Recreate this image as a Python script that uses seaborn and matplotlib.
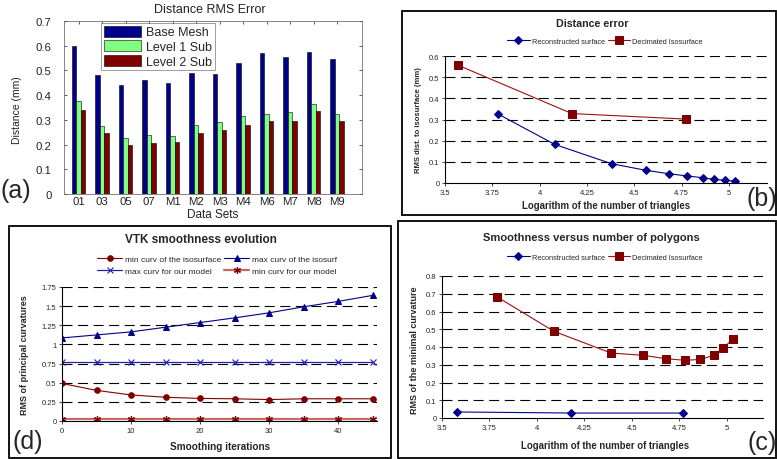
"""
Fyra paneler: avståndsfel och krökningsmått
"""

import matplotlib
matplotlib.use("Agg")
import matplotlib.pyplot as plt
from matplotlib.patches import Rectangle
import pandas as pd
import seaborn as sns

sns.set_style("white")
plt.rcParams["font.family"] = ["Liberation Sans", "DejaVu Sans"]

# (a) Distance RMS Error
data_sets = ["01", "03", "05", "07", "M1", "M2", "M3", "M4", "M6", "M7", "M8", "M9"]
base_mesh = [0.60, 0.48, 0.44, 0.46, 0.45, 0.49, 0.485, 0.53, 0.57, 0.555, 0.575, 0.545]
level1_sub = [0.375, 0.275, 0.225, 0.24, 0.235, 0.28, 0.29, 0.315, 0.325, 0.33, 0.365, 0.325]
level2_sub = [0.34, 0.245, 0.20, 0.205, 0.21, 0.245, 0.26, 0.28, 0.295, 0.295, 0.335, 0.295]

# (b) Distance error
b_recon_x = [3.78, 4.08, 4.38, 4.56, 4.68, 4.78, 4.86, 4.92, 4.98, 5.03]
b_recon_y = [0.326, 0.182, 0.091, 0.060, 0.044, 0.033, 0.025, 0.017, 0.013, 0.008]
b_decim_x = [3.57, 4.17, 4.77]
b_decim_y = [0.556, 0.328, 0.302]

# (c) Smoothness versus number of polygons
c_recon_x = [3.58, 4.18, 4.77]
c_recon_y = [0.034, 0.028, 0.028]
c_decim_x = [3.79, 4.09, 4.39, 4.56, 4.68, 4.78, 4.86, 4.93, 4.98, 5.03]
c_decim_y = [0.682, 0.488, 0.366, 0.353, 0.334, 0.325, 0.330, 0.353, 0.394, 0.443]

# (d) VTK smoothness evolution
iterations = [0, 5, 10, 15, 20, 25, 30, 35, 40, 45]
min_curv_iso = [0.49, 0.40, 0.34, 0.31, 0.295, 0.29, 0.28, 0.29, 0.29, 0.29]
max_curv_iso = [1.085, 1.124, 1.164, 1.225, 1.286, 1.347, 1.413, 1.492, 1.562, 1.641]
max_curv_model = [0.775, 0.775, 0.775, 0.775, 0.775, 0.775, 0.775, 0.775, 0.775, 0.775]
min_curv_model = [0.03, 0.03, 0.03, 0.03, 0.03, 0.03, 0.03, 0.03, 0.03, 0.03]

W, H = 777, 460
NAVY = "#00008b"
DRED = "#800000"


def box(l, t, r, b):
    return [l / W, 1 - b / H, (r - l) / W, (b - t) / H]


def fx(px):
    return px / W


def fy(py):
    return 1 - py / H


def frame(l, t, r, b):
    fig.add_artist(Rectangle((l / W, 1 - b / H), (r - l) / W, (b - t) / H,
                             transform=fig.transFigure, fill=False,
                             ec="black", lw=1.3))


def excel_axes(ax, xticks, xlabels, yticks, ylabels):
    ax.set_xticks(xticks, xlabels)
    ax.set_yticks(yticks, ylabels)
    ax.tick_params(labelsize=5.5, length=2, width=0.6, pad=2, direction="out",
                   bottom=True, left=True)
    for s in ["top", "right"]:
        ax.spines[s].set_visible(False)
    for s in ["left", "bottom"]:
        ax.spines[s].set_color("black")
        ax.spines[s].set_linewidth(0.8)
    for y in yticks[1:]:
        ax.axhline(y, color="black", lw=0.8, ls=(0, (9, 5)), zorder=0)


def excel_legend(ax, cx, cy, size, ncol=2, spacing=0.3):
    ax.legend(loc="center", bbox_to_anchor=(fx(cx), fy(cy)),
              bbox_transform=fig.transFigure, ncol=ncol, fontsize=size,
              frameon=False, handlelength=3, columnspacing=0.4,
              handletextpad=0.3, labelspacing=spacing, borderaxespad=0)


fig = plt.figure(figsize=(W / 100, H / 100), dpi=100)

# ---------------- (a) ----------------
ax_a = fig.add_axes(box(64, 22, 362, 195))
df_a = pd.DataFrame({
    "set": data_sets * 3,
    "value": base_mesh + level1_sub + level2_sub,
    "series": ["Base Mesh"] * 12 + ["Level 1 Sub"] * 12 + ["Level 2 Sub"] * 12,
})
sns.barplot(data=df_a, x="set", y="value", hue="series", ax=ax_a, width=0.58,
            palette=[NAVY, "#80ff80", DRED], edgecolor="black", linewidth=0.4,
            dodge=True, saturation=1)
ax_a.set_xlim(-0.62, 12.06)
ax_a.set_ylim(0, 0.7)
ax_a.set_yticks([0, 0.1, 0.2, 0.3, 0.4, 0.5, 0.6, 0.7],
                ["0", "0.1", "0.2", "0.3", "0.4", "0.5", "0.6", "0.7"])
ax_a.tick_params(labelsize=8.2, direction="in", length=2, width=0.5,
                 top=True, right=True, bottom=True, left=True,
                 colors="#222222")
ax_a.tick_params(axis="x", pad=1.5)
ax_a.tick_params(axis="y", pad=9)
for s in ax_a.spines.values():
    s.set_linewidth(0.5)
    s.set_color("#555555")
ax_a.set_xlabel("")
ax_a.set_ylabel("")
fig.text(fx(210), fy(10), "Distance RMS Error", fontsize=9, ha="center",
         va="center", color="#222222")
fig.text(fx(213), fy(215), "Data Sets", fontsize=8.5, ha="center",
         va="center", color="#222222")
fig.text(fx(17), fy(110), "Distance (mm)", fontsize=7.5, ha="center",
         va="center", rotation=90, color="#222222")
ax_a.legend(loc="upper left", bbox_to_anchor=(fx(101), fy(24)),
            bbox_transform=fig.transFigure, fontsize=9,
            frameon=True, fancybox=False, edgecolor="#555555",
            handlelength=3.0, handleheight=1.0, borderpad=0.2,
            labelspacing=0.15, handletextpad=0.4, borderaxespad=0)
ax_a.get_legend().get_frame().set_linewidth(0.5)
fig.text(0 / W, 1 - 191 / H, "(a)", fontsize=18, va="center", ha="left")

# ---------------- (b) ----------------
frame(402, 12, 776, 216)
ax_b = fig.add_axes(box(445, 57, 767, 184))
sns.lineplot(x=b_recon_x, y=b_recon_y, ax=ax_b, color=NAVY, marker="D",
             markersize=4, markeredgecolor=NAVY, lw=0.8,
             label="Reconstructed surface")
sns.lineplot(x=b_decim_x, y=b_decim_y, ax=ax_b, color="#a01010", marker="s",
             markersize=5.5, markerfacecolor=DRED, markeredgecolor=DRED, lw=0.8,
             label="Decimated Isosurface")
ax_b.set_xlim(3.5, 5.2)
ax_b.set_ylim(0, 0.6)
excel_axes(ax_b, [3.5, 3.75, 4, 4.25, 4.5, 4.75, 5],
           ["3.5", "3.75", "4", "4.25", "4.5", "4.75", "5"],
           [0, 0.1, 0.2, 0.3, 0.4, 0.5, 0.6],
           ["0", "0.1", "0.2", "0.3", "0.4", "0.5", "0.6"])
fig.text(fx(592), fy(24), "Distance error", fontsize=7.7, fontweight="bold",
         ha="center", va="center")
fig.text(fx(606), fy(206), "Logarithm of the number of triangles",
         fontsize=6.9, fontweight="bold", ha="center", va="center")
fig.text(fx(419), fy(120), "RMS dist. to isosurface (mm)", fontsize=5.5,
         fontweight="bold", ha="center", va="center", rotation=90)
excel_legend(ax_b, 605, 42, 5.3)
fig.text(762 / W, 1 - 199 / H, "(b)", fontsize=18, va="center", ha="center")

# ---------------- (d) ----------------
frame(9, 227, 391, 459)
ax_d = fig.add_axes(box(62, 288, 377, 422))
sns.lineplot(x=iterations, y=min_curv_iso, ax=ax_d, color=DRED, marker="o",
             markersize=4, markeredgecolor=DRED, lw=0.8,
             label="min curv of the isosurface")
sns.lineplot(x=iterations, y=max_curv_model, ax=ax_d, color="#2020b0",
             marker="x", markersize=5, markeredgecolor="#2020b0",
             markeredgewidth=0.8, lw=0.9, label="max curv for our model")
sns.lineplot(x=iterations, y=max_curv_iso, ax=ax_d, color=NAVY, marker="^",
             markersize=5, markeredgecolor=NAVY, lw=0.8,
             label="max curv of the isosurf")
sns.lineplot(x=iterations, y=min_curv_model, ax=ax_d, color="#c46a6a",
             marker=(6, 2, 0), markersize=5, markeredgecolor=DRED,
             markeredgewidth=0.9, lw=1.6, label="min curv for our model")
ax_d.set_xlim(0, 45.6)
ax_d.set_ylim(0, 1.75)
excel_axes(ax_d, [0, 10, 20, 30, 40], ["0", "10", "20", "30", "40"],
           [0, 0.25, 0.5, 0.75, 1, 1.25, 1.5, 1.75],
           ["0", "0.25", "0.5", "0.75", "1", "1.25", "1.5", "1.75"])
fig.text(fx(201), fy(240), "VTK smoothness evolution", fontsize=8.5,
         fontweight="bold", ha="center", va="center")
fig.text(fx(220), fy(447), "Smoothing iterations", fontsize=7.2,
         fontweight="bold", ha="center", va="center")
fig.text(fx(25), fy(355), "RMS of principal curvatures", fontsize=6.5,
         fontweight="bold", ha="center", va="center", rotation=90)
excel_legend(ax_d, 217, 266, 6, spacing=0.45)
fig.text(28 / W, 1 - 442 / H, "(d)", fontsize=18, va="center", ha="center")

# ---------------- (c) ----------------
frame(398, 222, 776, 459)
ax_c = fig.add_axes(box(442, 277, 763, 419))
sns.lineplot(x=c_recon_x, y=c_recon_y, ax=ax_c, color=NAVY, marker="D",
             markersize=4, markeredgecolor=NAVY, lw=0.8,
             label="Reconstructed surface")
sns.lineplot(x=c_decim_x, y=c_decim_y, ax=ax_c, color="#a01010", marker="s",
             markersize=5.5, markerfacecolor=DRED, markeredgecolor=DRED, lw=0.8,
             label="Decimated Isosurface")
ax_c.set_xlim(3.5, 5.19)
ax_c.set_ylim(0, 0.8)
excel_axes(ax_c, [3.5, 3.75, 4, 4.25, 4.5, 4.75, 5],
           ["3.5", "3.75", "4", "4.25", "4.5", "4.75", "5"],
           [0, 0.1, 0.2, 0.3, 0.4, 0.5, 0.6, 0.7, 0.8],
           ["0", "0.1", "0.2", "0.3", "0.4", "0.5", "0.6", "0.7", "0.8"])
fig.text(fx(591), fy(238), "Smoothness versus number of polygons",
         fontsize=8, fontweight="bold", ha="center", va="center")
fig.text(fx(605), fy(446), "Logarithm of the number of triangles",
         fontsize=6.9, fontweight="bold", ha="center", va="center")
fig.text(fx(414), fy(350), "RMS of the minimal curvature", fontsize=6.5,
         fontweight="bold", ha="center", va="center", rotation=90)
excel_legend(ax_c, 605, 258, 5.3)
fig.text(762 / W, 1 - 443 / H, "(c)", fontsize=18, va="center", ha="center")

fig.savefig("out.png", dpi=100)
